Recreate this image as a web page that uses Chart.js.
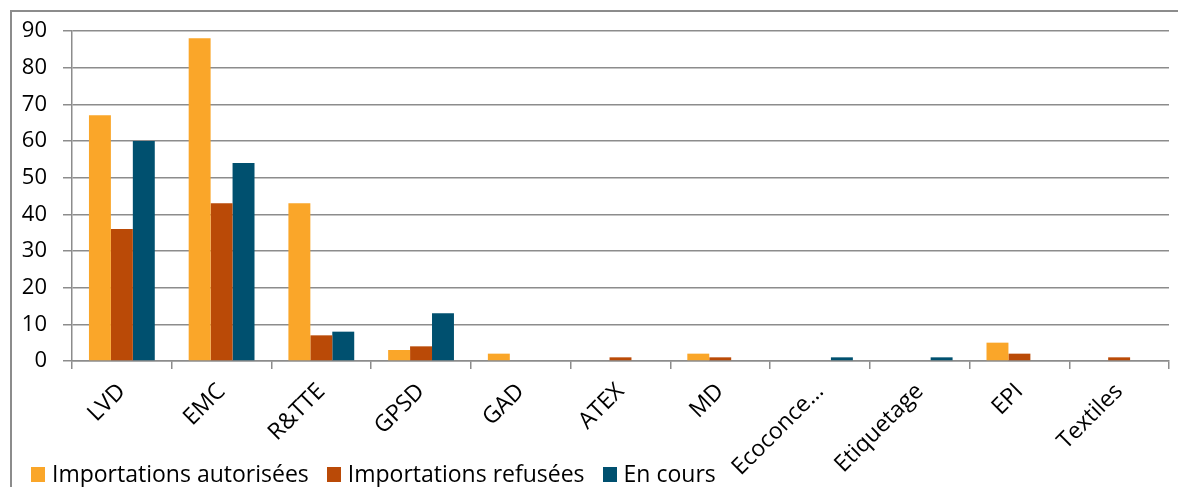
<!DOCTYPE html>
<html><head><meta charset="utf-8">
<script src="https://cdn.jsdelivr.net/npm/chart.js@4"></script>
<style>
html,body{margin:0;padding:0;background:#fff;}
#wrap{position:relative;width:1178px;height:487px;overflow:hidden;}
#frame{position:absolute;left:10px;top:10px;width:1300px;height:600px;border:2px solid #8c8c8c;box-sizing:border-box;}
canvas{position:absolute;left:0;top:0;}
#legend{position:absolute;left:31px;top:457px;display:flex;align-items:center;font-family:'Open Sans';font-size:23px;color:#000;white-space:nowrap;}
#legend .item{display:flex;align-items:center;margin-right:18px;}
#legend .box{width:14px;height:15px;margin-right:7px;margin-top:3px;}
</style></head>
<body><div id="wrap"><div id="frame"></div><canvas id="c" width="1178" height="487"></canvas><div id="legend"></div></div>
<script>
const categories = ["LVD","EMC","R&TTE","GPSD","GAD","ATEX","MD","Ecoconce…","Etiquetage","EPI","Textiles"];
const autorisees = [67,88,43,3,2,0,2,0,0,5,0];
const refusees   = [36,43,7,4,0,1,1,0,0,2,1];
const enCours    = [60,54,8,13,0,0,0,1,1,0,0];
const yTicks = [0,10,20,30,40,50,60,70,80,90];
const seriesNames = ["Importations autorisées","Importations refusées","En cours"];
const colors = ["#FAA629","#BA4A07","#00506F"];

const FONT = "'Open Sans'";
const chart = new Chart(document.getElementById('c'), {
  type: 'bar',
  data: {
    labels: categories,
    datasets: [autorisees, refusees, enCours].map((d,i)=>({
      label: seriesNames[i], data: d, backgroundColor: colors[i],
      borderWidth: 0, categoryPercentage: 0.66, barPercentage: 1
    }))
  },
  options: {
    responsive: false, animation: false,
    layout: {padding: {left: 10, right: 9, top: 31, bottom: 0}},
    plugins: {
      legend: {display: false},
      tooltip: {enabled: false}
    },
    scales: {
      y: {
        min: 0, max: 90,
        afterFit: s => { s.width = 62; },
        afterBuildTicks: s => { s.ticks = yTicks.map(v=>({value:v})); },
        ticks: {font: {family: FONT, size: 22}, color: '#000', padding: 16},
        grid: {color: '#8c8c8c', lineWidth: 1.5, tickLength: 9},
        border: {color: '#8c8c8c', width: 1.5}
      },
      x: {
        afterFit: s => { s.height = 126; },
        ticks: {font: {family: FONT, size: 23}, color: '#000', minRotation: 45, maxRotation: 45,
                padding: 9, labelOffset: 0, autoSkip: false},
        grid: {drawOnChartArea: false, color: '#8c8c8c', lineWidth: 1.5, tickLength: 8, offset: true},
        border: {color: '#8c8c8c', width: 1.5}
      }
    }
  }
});

// HTML legend built from the chart's datasets
const legendEl = document.getElementById('legend');
chart.data.datasets.forEach(ds => {
  const item = document.createElement('div'); item.className = 'item';
  const box = document.createElement('span'); box.className = 'box'; box.style.background = ds.backgroundColor;
  const txt = document.createElement('span'); txt.textContent = ds.label;
  item.appendChild(box); item.appendChild(txt); legendEl.appendChild(item);
});
</script></body></html>
